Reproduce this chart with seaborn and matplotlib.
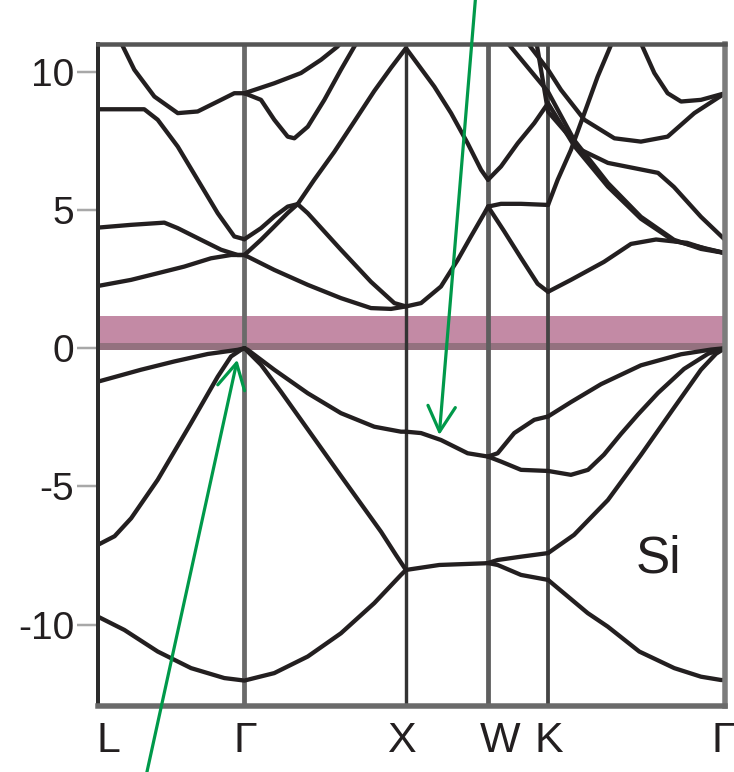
import matplotlib
matplotlib.use("Agg")
import matplotlib.pyplot as plt
import matplotlib.transforms as mtransforms
import pandas as pd
import seaborn as sns

# ---------------- data ----------------
kpt_labels = ["L", "Γ", "X", "W", "K", "Γ"]
kpt_pos = [0.0, 0.883, 1.857, 2.352, 2.714, 3.781]
y_ticks = [-10, -5, 0, 5, 10]
gap_top = 1.17
material = "Si"

# valence bands
v_low_k = [0.0, 0.159, 0.360, 0.561, 0.762, 0.883, 1.063, 1.265, 1.465, 1.666, 1.827, 1.857]
v_low_E = [-9.71, -10.19, -10.97, -11.57, -11.93, -12.02, -11.75, -11.15, -10.31, -9.22, -8.20, -8.02]
v_lg_k = [0.0, 0.100, 0.200, 0.360, 0.561, 0.722, 0.802, 0.862, 0.883]
v_lg_E = [-7.11, -6.80, -6.15, -4.76, -2.71, -1.03, -0.30, -0.06, 0.0]
v_lh_k = [0.0, 0.259, 0.460, 0.662, 0.842, 0.883]
v_lh_E = [-1.21, -0.78, -0.48, -0.21, -0.06, 0.0]
v_gxa_k = [0.883, 0.983, 1.104, 1.224, 1.345, 1.465, 1.586, 1.707, 1.797, 1.857]
v_gxa_E = [0.0, -0.60, -1.58, -2.59, -3.61, -4.62, -5.63, -6.64, -7.48, -8.02]
v_gxb_k = [0.883, 0.903, 1.063, 1.265, 1.465, 1.666, 1.827, 1.857]
v_gxb_E = [0.0, -0.06, -0.78, -1.63, -2.35, -2.84, -3.02, -3.02]
v_xwa_k = [1.857, 1.948, 2.068, 2.229, 2.352]
v_xwa_E = [-3.02, -3.07, -3.32, -3.80, -3.92]
v_wka_k = [2.352, 2.410, 2.510, 2.631, 2.714]
v_wka_E = [-3.92, -3.80, -3.07, -2.59, -2.47]
v_wkb_k = [2.352, 2.430, 2.551, 2.714]
v_wkb_E = [-3.92, -4.10, -4.40, -4.44]
v_kga_k = [2.714, 2.852, 3.034, 3.274, 3.516, 3.697, 3.781]
v_kga_E = [-2.47, -1.95, -1.30, -0.62, -0.22, -0.05, 0.0]
v_kgb_k = [2.714, 2.852, 2.955, 3.051, 3.154, 3.256, 3.377, 3.534, 3.679, 3.781]
v_kgb_E = [-4.44, -4.58, -4.40, -3.85, -3.10, -2.40, -1.62, -0.75, -0.20, 0.0]
v_xwb_k = [1.857, 2.058, 2.330, 2.352]
v_xwb_E = [-8.02, -7.84, -7.78, -7.77]
v_wkc_k = [2.352, 2.410, 2.551, 2.714]
v_wkc_E = [-7.77, -7.66, -7.54, -7.41]
v_wkd_k = [2.352, 2.410, 2.551, 2.714]
v_wkd_E = [-7.77, -7.84, -8.20, -8.38]
v_kgc_k = [2.714, 2.871, 3.075, 3.274, 3.473, 3.636, 3.727, 3.781]
v_kgc_E = [-7.41, -6.75, -5.49, -3.86, -2.16, -0.78, -0.20, 0.0]
v_kgd_k = [2.714, 2.953, 3.074, 3.264, 3.475, 3.636, 3.757, 3.781]
v_kgd_E = [-8.38, -9.58, -10.07, -10.97, -11.57, -11.88, -12.0, -12.0]

# conduction bands
c_lg1_k = [0.0, 0.199, 0.360, 0.520, 0.681, 0.802, 0.883]
c_lg1_E = [2.25, 2.47, 2.71, 2.95, 3.25, 3.37, 3.37]
c_lg2_k = [0.0, 0.199, 0.400, 0.481, 0.621, 0.742, 0.842, 0.883]
c_lg2_E = [4.36, 4.46, 4.54, 4.34, 3.92, 3.56, 3.37, 3.37]
c_lg3_k = [0.0, 0.279, 0.360, 0.481, 0.601, 0.722, 0.822, 0.883]
c_lg3_E = [8.64, 8.64, 8.26, 7.29, 6.09, 4.88, 4.04, 3.94]
c_lg4_k = [0.110, 0.219, 0.340, 0.481, 0.601, 0.722, 0.822, 0.883]
c_lg4_E = [11.40, 10.07, 9.10, 8.50, 8.56, 8.92, 9.22, 9.22]
c_gxu1_k = [0.883, 0.983, 1.063, 1.144, 1.204]
c_gxu1_E = [3.94, 4.34, 4.76, 5.12, 5.21]
c_gxu2_k = [0.883, 0.983, 1.063, 1.144, 1.204]
c_gxu2_E = [3.37, 3.92, 4.40, 4.89, 5.21]
c_gxt_k = [1.204, 1.304, 1.425, 1.546, 1.666, 1.767, 1.857]
c_gxt_E = [5.21, 6.09, 7.10, 8.20, 9.30, 10.14, 10.85]
c_gxd_k = [1.204, 1.265, 1.465, 1.646, 1.787, 1.857]
c_gxd_E = [5.21, 4.88, 3.56, 2.40, 1.63, 1.51]
c_gxl_k = [0.883, 0.903, 1.063, 1.265, 1.465, 1.646, 1.767, 1.857]
c_gxl_E = [3.37, 3.31, 2.83, 2.29, 1.81, 1.45, 1.42, 1.51]
c_gxh_k = [0.883, 1.063, 1.224, 1.345, 1.445, 1.490]
c_gxh_E = [9.22, 9.58, 9.95, 10.43, 10.91, 11.25]
c_gxv_k = [0.883, 0.983, 1.063, 1.144, 1.184, 1.265, 1.365, 1.465, 1.546, 1.580]
c_gxv_E = [9.22, 8.98, 8.26, 7.65, 7.59, 8.01, 8.98, 10.07, 10.91, 11.25]
c_xw1_k = [1.857, 1.948, 2.068, 2.169, 2.249, 2.330, 2.352]
c_xw1_E = [1.51, 1.63, 2.23, 3.19, 4.04, 4.88, 5.12]
c_xw2_k = [1.857, 2.028, 2.129, 2.229, 2.310, 2.352]
c_xw2_E = [10.85, 9.46, 8.50, 7.41, 6.45, 6.09]
c_wk1_k = [2.352, 2.430, 2.531, 2.631, 2.714]
c_wk1_E = [6.09, 6.57, 7.41, 8.14, 8.86]
c_wk2_k = [2.352, 2.430, 2.551, 2.714]
c_wk2_E = [5.12, 5.22, 5.22, 5.18]
c_wk3_k = [2.352, 2.448, 2.551, 2.651, 2.714]
c_wk3_E = [5.12, 4.24, 3.26, 2.33, 2.04]
c_ta_k = [2.430, 2.471, 2.714, 2.871, 3.075, 3.274, 3.473, 3.636, 3.781]
c_ta_E = [11.33, 11.03, 9.27, 7.53, 5.97, 4.75, 3.92, 3.59, 3.44]
c_tb_k = [2.551, 2.591, 2.714, 2.792, 2.933, 3.114, 3.274, 3.435, 3.596, 3.781]
c_tb_E = [11.40, 11.03, 10.07, 9.34, 8.26, 7.59, 7.47, 7.65, 8.50, 9.22]
c_kgb_k = [2.714, 2.871, 3.075, 3.274, 3.473, 3.781]
c_kgb_E = [8.86, 7.32, 5.84, 4.68, 3.88, 3.44]
c_kgm_k = [2.640, 2.714, 2.913, 3.075, 3.377, 3.473, 3.636, 3.781]
c_kgm_E = [11.20, 8.55, 7.17, 6.70, 6.34, 5.83, 4.75, 3.92]
c_kgu_k = [2.714, 2.772, 2.852, 2.933, 3.013, 3.094, 3.118]
c_kgu_E = [5.18, 6.09, 7.17, 8.50, 9.82, 10.97, 11.33]
c_kgd_k = [3.250, 3.274, 3.355, 3.435, 3.516, 3.636, 3.781]
c_kgd_E = [11.33, 11.03, 9.95, 9.22, 8.92, 8.98, 9.22]
c_kgc_k = [2.714, 2.852, 3.051, 3.214, 3.365, 3.552, 3.666, 3.781]
c_kgc_E = [2.04, 2.47, 3.12, 3.77, 3.93, 3.81, 3.59, 3.44]

curves = {
    "v_low": (v_low_k, v_low_E), "v_lg": (v_lg_k, v_lg_E), "v_lh": (v_lh_k, v_lh_E),
    "v_gxa": (v_gxa_k, v_gxa_E), "v_gxb": (v_gxb_k, v_gxb_E),
    "v_xwa": (v_xwa_k, v_xwa_E), "v_wka": (v_wka_k, v_wka_E), "v_wkb": (v_wkb_k, v_wkb_E),
    "v_kga": (v_kga_k, v_kga_E), "v_kgb": (v_kgb_k, v_kgb_E),
    "v_xwb": (v_xwb_k, v_xwb_E), "v_wkc": (v_wkc_k, v_wkc_E), "v_wkd": (v_wkd_k, v_wkd_E),
    "v_kgc": (v_kgc_k, v_kgc_E), "v_kgd": (v_kgd_k, v_kgd_E),
    "c_lg1": (c_lg1_k, c_lg1_E), "c_lg2": (c_lg2_k, c_lg2_E), "c_lg3": (c_lg3_k, c_lg3_E),
    "c_lg4": (c_lg4_k, c_lg4_E), "c_gxu1": (c_gxu1_k, c_gxu1_E), "c_gxu2": (c_gxu2_k, c_gxu2_E),
    "c_gxt": (c_gxt_k, c_gxt_E), "c_gxd": (c_gxd_k, c_gxd_E), "c_gxl": (c_gxl_k, c_gxl_E),
    "c_gxh": (c_gxh_k, c_gxh_E), "c_gxv": (c_gxv_k, c_gxv_E),
    "c_xw1": (c_xw1_k, c_xw1_E), "c_xw2": (c_xw2_k, c_xw2_E),
    "c_wk1": (c_wk1_k, c_wk1_E), "c_wk2": (c_wk2_k, c_wk2_E), "c_wk3": (c_wk3_k, c_wk3_E),
    "c_ta": (c_ta_k, c_ta_E), "c_tb": (c_tb_k, c_tb_E), "c_kgb": (c_kgb_k, c_kgb_E),
    "c_kgm": (c_kgm_k, c_kgm_E), "c_kgu": (c_kgu_k, c_kgu_E), "c_kgd": (c_kgd_k, c_kgd_E),
    "c_kgc": (c_kgc_k, c_kgc_E),
}
df = pd.concat(
    [pd.DataFrame({"k": k, "E": E, "curve": name}) for name, (k, E) in curves.items()],
    ignore_index=True,
)

# ---------------- style ----------------
sns.set_style("white")
plt.rcParams["font.family"] = ["Liberation Sans", "DejaVu Sans"]

W, H = 734, 772
fig = plt.figure(figsize=(W / 100, H / 100), dpi=100)
ax = fig.add_axes([98 / W, (H - 706) / H, (725 - 98) / W, (706 - 44) / H])
PX = 0.72  # points per pixel

ax.set_xlim(kpt_pos[0], kpt_pos[-1])
ax.set_ylim(-12.94, 11.0)

# band-gap shading
ax.axhspan(0.18, gap_top, color="#c38aa5", zorder=1, lw=0)
ax.axhspan(-0.06, 0.18, color="#94717f", zorder=1, lw=0)

# high symmetry verticals
vcols = [None, "#6a6a6a", "#333333", "#5e5e5e", "#444444", None]
vwid = [0, 4.8, 3.4, 4.8, 3.8, 0]
for pos, c, w in zip(kpt_pos, vcols, vwid):
    if c is not None:
        ax.axvline(pos, color=c, lw=w * PX, zorder=2)

sns.lineplot(data=df, x="k", y="E", units="curve", estimator=None, sort=False,
             color="#231f20", linewidth=4.3 * PX, ax=ax, legend=False, zorder=3)
for ln in ax.lines:
    ln.set_solid_capstyle("round")
    ln.set_solid_joinstyle("round")

# spines
sp = ax.spines
sp["left"].set_color("#2b2b2b"); sp["left"].set_linewidth(4 * PX)
sp["top"].set_color("#555555"); sp["top"].set_linewidth(4.5 * PX)
sp["right"].set_color("#7c7c7c"); sp["right"].set_linewidth(5.5 * PX)
sp["bottom"].set_color("#6a6a6a"); sp["bottom"].set_linewidth(5.5 * PX)
for s in sp.values():
    s.set_zorder(4)

ax.set_yticks(y_ticks)
ax.set_yticklabels([str(v) for v in y_ticks])
ax.tick_params(axis="y", direction="out", length=21 * PX, width=2.5 * PX,
               color="#a8a8a8", labelsize=28, labelcolor="#231f20", pad=3 * PX, left=True)
ax.set_xticks(kpt_pos)
ax.set_xticklabels(kpt_labels)
ax.tick_params(axis="x", length=0, labelsize=31, labelcolor="#231f20", pad=11)
offsets_px = [10, 1, -5, 12, 1, -2]
for lab, dx in zip(ax.get_xticklabels(), offsets_px):
    lab.set_transform(lab.get_transform() + mtransforms.ScaledTranslation(dx / 100, 0, fig.dpi_scale_trans))

ax.set_xlabel("")
ax.set_ylabel("")
ax.grid(False)

ax.text(3.377, -7.62, material, fontsize=37, ha="center", va="center", color="#231f20", zorder=5)

green = "#00994a"
arrow_kw = dict(arrowstyle="->,head_length=0.7,head_width=0.38", color=green,
                lw=3.2 * PX, mutation_scale=26, shrinkA=0, shrinkB=0)
ax.annotate("", xy=(0.840, -0.42), xycoords="data", xytext=(146.5, -2),
            textcoords="figure pixels", arrowprops=arrow_kw, annotation_clip=False, zorder=6)
ax.annotate("", xy=(2.058, -3.14), xycoords="data", xytext=(475.5, 774),
            textcoords="figure pixels", arrowprops=arrow_kw, annotation_clip=False, zorder=6)

fig.savefig("out.png", dpi=100)
